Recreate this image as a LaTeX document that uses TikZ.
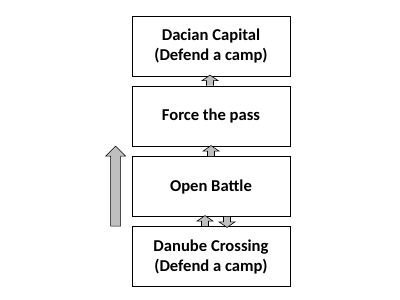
\documentclass[tikz,border=0pt]{standalone}
\usepackage{fontspec}
\setmainfont{Carlito}
\usetikzlibrary{calc}

\tikzset{
  stage/.style={draw,line width=.8pt,fill=white,minimum width=158pt,minimum height=60pt,
    align=center,font=\fontsize{16.6}{20}\selectfont\bfseries},
  blockfill/.style={draw=black,line width=.6pt,fill=black!25,line join=miter},
  upblk/.pic={\draw[blockfill] (-3.5,0) -- (-3.5,-5) -- (-8,-5) -- (0,-10.5) -- (8,-5) -- (3.5,-5) -- (3.5,0);}
}

\begin{document}
\begin{tikzpicture}[x=1pt,y=-1pt]
  \useasboundingbox (0,0) rectangle (400,300);
  \node[stage] (capital) at (211,46) {Dacian Capital\\(Defend a camp)};
  \node[stage] (pass) at (211,116) {Force the pass};
  \node[stage] (battle) at (211,186.5) {Open Battle};
  \node[stage] (crossing) at (211,256.5) {Danube Crossing\\(Defend a camp)};
  % small arrows between the stages
  \pic at ($(pass.north)+(-1,0)$) {upblk};
  \pic at (battle.north) {upblk};
  \pic at ($(crossing.north)+(-6,0)$) {upblk};
  \pic[rotate=180] at ($(battle.south)+(16,0)$) {upblk};
  % big arrow on the left
  \coordinate (bigtop) at ($(battle.north west)+(-16,-10)$);
  \coordinate (bigbot) at ($(crossing.north west)+(-16,0)$);
  \draw[blockfill] ($(bigbot)+(-5,0)$) -- ($(bigtop)+(-5,10)$) -- ($(bigtop)+(-10,10)$) -- (bigtop)
    -- ($(bigtop)+(10,10)$) -- ($(bigtop)+(5,10)$) -- ($(bigbot)+(5,0)$) -- cycle;
\end{tikzpicture}
\end{document}
